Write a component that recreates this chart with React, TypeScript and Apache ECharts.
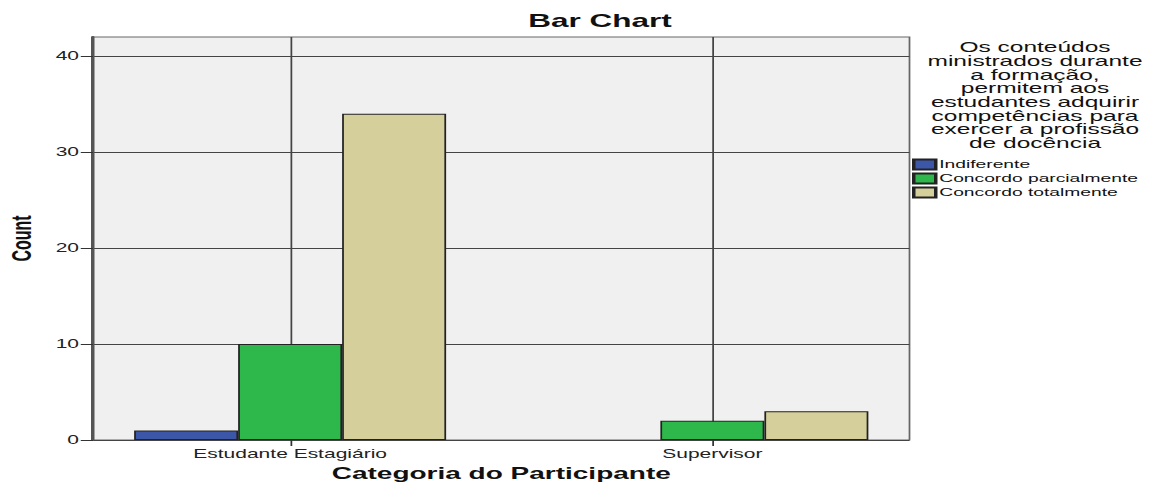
import React, { useEffect, useRef } from "react";
import * as echarts from "echarts";

const categories = ["Estudante Estagiário", "Supervisor"];
const seriesNames = ["Indiferente", "Concordo parcialmente", "Concordo totalmente"];
const indiferente: (number | null)[] = [1, null];
const parcialmente: (number | null)[] = [10, 2];
const totalmente: (number | null)[] = [34, 3];
const yTicks = [0, 10, 20, 30, 40];
const colors = ["#3d57a8", "#2eb84b", "#d4cf9b"];
const legendTitle =
  "Os conteúdos\nministrados durante\na formação,\npermitem aos\nestudantes adquirir\ncompetências para\nexercer a profissão\nde docência";

const S = 1.75; // horizontal stretch of the reference picture
const W = 1158 / S;
const H = 483;
const FONT = "'Liberation Sans', Arial, sans-serif";

export default function App() {
  const ref = useRef<HTMLDivElement>(null);
  useEffect(() => {
    if (!ref.current) return;
    const chart = echarts.init(ref.current, undefined, { renderer: "svg" });
    const px = (x: number) => x / S;
    const plotL = px(93);
    const plotR = px(909);
    const c0 = px(290);
    const c1 = px(712);
    const band = c1 - c0;
    const g1L = c0 - band / 2;
    const g1R = W - (c1 + band / 2);
    const barW = px(104);
    const data = [indiferente, parcialmente, totalmente];
    const bars = seriesNames.map((name, i) => ({
      type: "bar",
      name,
      xAxisIndex: 1,
      yAxisIndex: 1,
      data: data[i],
      barWidth: barW,
      barGap: "0%",
      z: 3,
      itemStyle: { color: colors[i], borderColor: "#222", borderWidth: 1 },
      emphasis: { disabled: true },
    }));
    chart.setOption({
      animation: false,
      textStyle: { fontFamily: FONT },
      graphic: [
        {
          type: "text",
          x: px(600),
          y: 12,
          style: {
            text: "Bar Chart",
            font: `bold 18px ${FONT}`,
            fill: "#111",
            align: "center",
            verticalAlign: "top",
          },
        },
        {
          type: "text",
          x: px(1035),
          y: 40.5,
          style: {
            text: legendTitle,
            font: `14px ${FONT}`,
            lineHeight: 13.7,
            fill: "#111",
            align: "center",
            verticalAlign: "top",
          },
        },
      ],
      legend: {
        orient: "vertical",
        left: px(912),
        top: 158.5,
        padding: 0,
        itemWidth: px(22),
        itemHeight: 10,
        itemGap: 2,
        icon: "rect",
        data: seriesNames,
        textStyle: { fontSize: 11, color: "#111", fontFamily: FONT, padding: [0, 0, 0, -3] },
      },
      grid: [
        {
          left: plotL,
          right: W - plotR,
          top: 37,
          bottom: 43,
          outerBoundsMode: "none",
          containLabel: false,
          show: true,
          backgroundColor: "#f0f0f0",
          borderColor: "#666",
          borderWidth: 1,
        },
        {
          left: g1L,
          right: g1R,
          top: 37,
          bottom: 43,
          outerBoundsMode: "none",
          containLabel: false,
        },
      ],
      xAxis: [
        { type: "value", gridIndex: 0, show: false, min: 0, max: 1 },
        {
          type: "category",
          gridIndex: 1,
          data: categories,
          axisLine: { show: false },
          axisTick: { show: true, alignWithLabel: true, length: 6, lineStyle: { color: "#333" } },
          axisLabel: { fontSize: 12, color: "#222", margin: 8, fontFamily: FONT },
          splitLine: { show: false },
          name: "Categoria do Participante",
          nameLocation: "middle",
          nameGap: 25,
          nameTextStyle: { fontSize: 16, fontWeight: "bold", color: "#111", fontFamily: FONT },
        },
      ],
      yAxis: [
        {
          type: "value",
          gridIndex: 0,
          min: 0,
          max: 42,
          interval: 10,
          axisLine: { show: true, lineStyle: { color: "#555", width: 2 } },
          axisTick: { show: true, length: 7, customValues: yTicks, lineStyle: { color: "#333" } },
          axisLabel: { fontSize: 12, color: "#222", margin: 8, customValues: yTicks, fontFamily: FONT },
          splitLine: { show: true, lineStyle: { color: "#444", width: 1 } },
          name: "Count",
          nameLocation: "middle",
          nameRotate: 90,
          nameGap: 33,
          nameTextStyle: { fontSize: 16, fontWeight: "bold", color: "#111", fontFamily: FONT },
        },
        { type: "value", gridIndex: 1, min: 0, max: 42, show: false },
      ],
      series: [
        {
          type: "line",
          name: "_guides",
          xAxisIndex: 1,
          yAxisIndex: 1,
          data: [],
          silent: true,
          z: 1,
          markLine: {
            silent: true,
            z: 1,
            symbol: ["none", "none"],
            label: { show: false },
            lineStyle: { color: "#444", width: 1, type: "solid" },
            emphasis: { disabled: true },
            data: categories.map((c) => ({ xAxis: c })),
          },
        },
        ...bars,
      ],
    });
    return () => chart.dispose();
  }, []);
  return (
    <div
      style={{
        position: "absolute",
        left: 0,
        top: 0,
        width: W,
        height: H,
        transform: `scaleX(${S})`,
        transformOrigin: "0 0",
      }}
    >
      <div ref={ref} style={{ width: W, height: H }} />
    </div>
  );
}
